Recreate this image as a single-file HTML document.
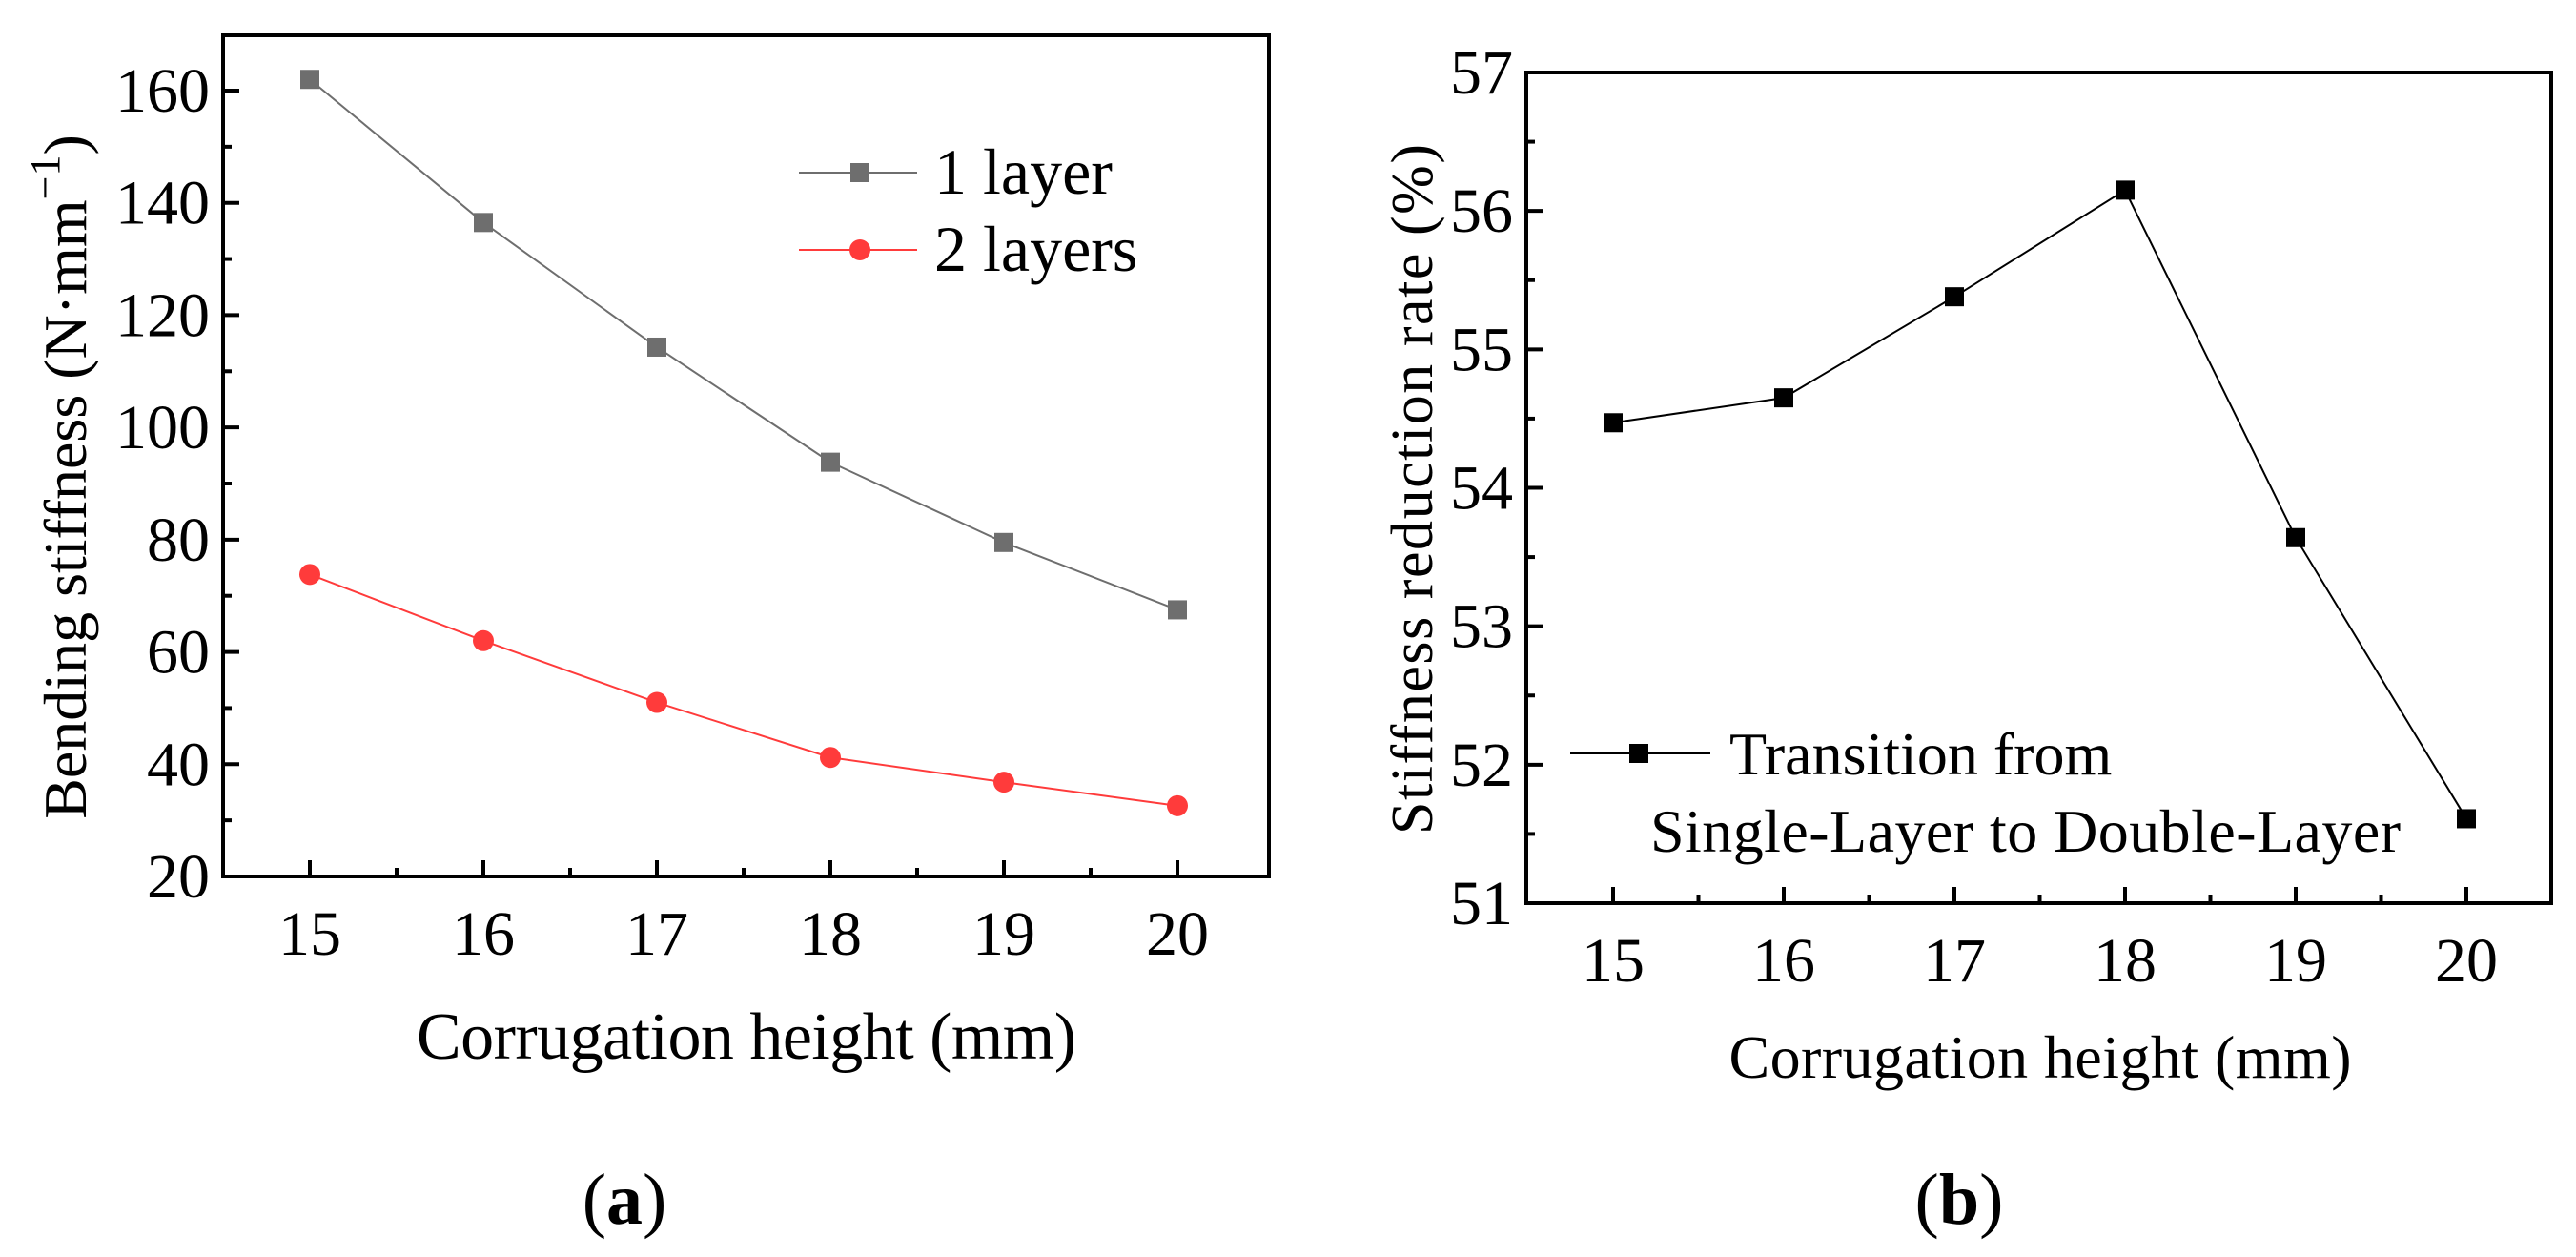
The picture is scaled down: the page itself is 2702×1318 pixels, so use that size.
<!DOCTYPE html>
<html><head><meta charset="utf-8"><style>
html,body{margin:0;padding:0;background:#fff}
svg{display:block}
text{font-family:"Liberation Serif",serif;fill:#000}
</style></head><body>
<svg id="fig" width="2702" height="1318" viewBox="0 0 2702 1318" xmlns="http://www.w3.org/2000/svg">
<g id="pa"></g>
<g id="pb"></g>
</svg>
<script>
const xCats = [15,16,17,18,19,20];
const oneLayer = [162,136.5,114.3,93.8,79.5,67.5];
const twoLayers = [73.8,62,51,41.2,36.8,32.6];
const yTicksA = [20,40,60,80,100,120,140,160];
const reduction = [54.47,54.65,55.38,56.15,53.64,51.61];
const yTicksB = [51,52,53,54,55,56,57];

const NS="http://www.w3.org/2000/svg";
function mk(parent,tag,attrs,txt){const e=document.createElementNS(NS,tag);for(const k in attrs)e.setAttribute(k,attrs[k]);if(txt!==undefined)e.textContent=txt;parent.appendChild(e);return e;}

function panel(g,o){
  const sx=v=>o.x0+(v-o.xmin)*(o.x1-o.x0)/(o.xmax-o.xmin);
  const sy=v=>o.y0-(v-o.ymin)*(o.y0-o.y1)/(o.ymax-o.ymin);
  const frame=mk(g,'rect',{x:o.L,y:o.T,width:o.R-o.L,height:o.B-o.T,fill:'none',stroke:'#000','stroke-width':4});
  
  
  xCats.forEach((c,i)=>{
    const x=sx(c);
    const t=mk(g,'line',{x1:x,y1:o.B,x2:x,y2:o.B-17,stroke:'#000','stroke-width':4});
    
    
    const lb=mk(g,'text',{x:x,y:o.B+82,'font-size':o.tickFs,'text-anchor':'middle'},String(c));
    
    
    if(i<xCats.length-1){
      const xm=sx(c+0.5);
      const m=mk(g,'line',{x1:xm,y1:o.B,x2:xm,y2:o.B-9,stroke:'#000','stroke-width':4});
      
      
    }
  });
  o.yTicks.forEach((v,i)=>{
    const y=sy(v);
    const t=mk(g,'line',{x1:o.L,y1:y,x2:o.L+17,y2:y,stroke:'#000','stroke-width':4});
    
    
    const lb=mk(g,'text',{x:o.L-14,y:y+22,'font-size':o.tickFs,'text-anchor':'end'},String(v));
    
    
    const step=o.yTicks[1]-o.yTicks[0];
    const ym=sy(v+step/2);
    if(ym>o.T+2){
      const m=mk(g,'line',{x1:o.L,y1:ym,x2:o.L+9,y2:ym,stroke:'#000','stroke-width':4});
      
      
    }
  });
  return {sx,sy};
}

function series(g,s,vals,color,shape,size,name){
  const pts=xCats.map((c,i)=>[s.sx(c),s.sy(vals[i])]);
  const pl=mk(g,'polyline',{points:pts.map(p=>p.join(',')).join(' '),fill:'none',stroke:color,'stroke-width':2});
  
  
  pts.forEach(p=>{
    let m;
    if(shape==='sq') m=mk(g,'rect',{x:p[0]-size/2,y:p[1]-size/2,width:size,height:size,fill:color});
    else m=mk(g,'circle',{cx:p[0],cy:p[1],r:size/2,fill:color});
    
    
  });
}

// Panel A
const ga=document.getElementById('pa');
const sa=panel(ga,{L:234,R:1331,T:37,B:919,x0:325,x1:1235,xmin:15,xmax:20,y0:919,y1:95,ymin:20,ymax:160,yTicks:yTicksA,tickFs:66});
series(ga,sa,oneLayer,'#6e6e6e','sq',20,'one-layer');
series(ga,sa,twoLayers,'#ff3b3b','ci',22,'two-layers');
[[181,'#6e6e6e','sq','1 layer'],[262,'#ff3b3b','ci','2 layers']].forEach(l=>{
  const lg=mk(ga,'g',{});
  
  
  mk(lg,'line',{x1:838,y1:l[0],x2:962,y2:l[0],stroke:l[1],'stroke-width':2});
  if(l[2]==='sq') mk(lg,'rect',{x:892,y:l[0]-10,width:20,height:20,fill:l[1]});
  else mk(lg,'circle',{cx:902,cy:l[0],r:11,fill:l[1]});
  mk(lg,'text',{x:980,y:l[0]+22,'font-size':68},l[3]);
});
const yta=mk(ga,'text',{x:0,y:0,'font-size':64,'text-anchor':'middle',transform:'translate(90,500) rotate(-90)'});


yta.innerHTML='Bending stiffness (N·mm<tspan dy="-28" font-size="44">−1</tspan><tspan dy="28">)</tspan>';
const xta=mk(ga,'text',{x:783,y:1110,'font-size':70,'text-anchor':'middle',textLength:692},'Corrugation height (mm)');


const la=mk(ga,'text',{x:655,y:1283,'font-size':76,'text-anchor':'middle'});


la.innerHTML='(<tspan font-weight="bold">a</tspan>)';

// Panel B
const gb=document.getElementById('pb');
const sb=panel(gb,{L:1601,R:2676,T:76,B:947,x0:1692,x1:2587,xmin:15,xmax:20,y0:947,y1:76,ymin:51,ymax:57,yTicks:yTicksB,tickFs:66});
series(gb,sb,reduction,'#000','sq',20,'reduction');
const lgb=mk(gb,'g',{});


mk(lgb,'line',{x1:1647,y1:790,x2:1794,y2:790,stroke:'#000','stroke-width':2});
mk(lgb,'rect',{x:1709,y:780,width:20,height:20,fill:'#000'});
mk(lgb,'text',{x:1814,y:812,'font-size':64},'Transition from');
mk(lgb,'text',{x:1731,y:893,'font-size':64,textLength:787},'Single-Layer to Double-Layer');
const ytb=mk(gb,'text',{x:0,y:0,'font-size':62,'text-anchor':'middle',transform:'translate(1502,513) rotate(-90)',textLength:724},'Stiffness reduction rate (%)');


const xtb=mk(gb,'text',{x:2140,y:1130,'font-size':64,'text-anchor':'middle',textLength:653},'Corrugation height (mm)');


const lb2=mk(gb,'text',{x:2055,y:1283,'font-size':76,'text-anchor':'middle'});


lb2.innerHTML='(<tspan font-weight="bold">b</tspan>)';
</script>
</body></html>
